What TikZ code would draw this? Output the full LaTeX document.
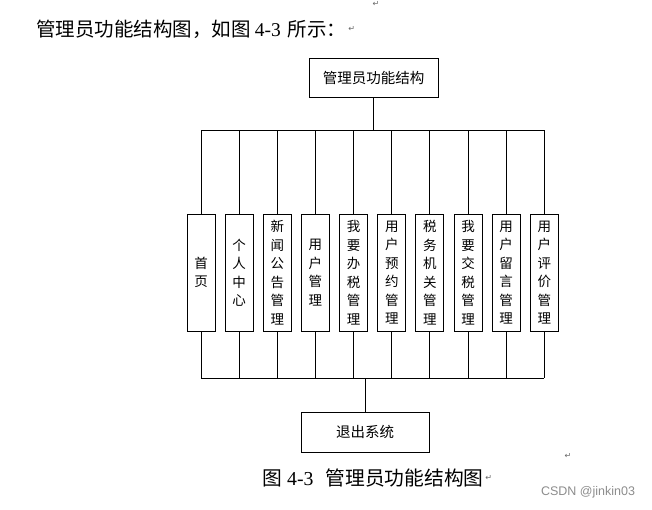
\documentclass[tikz,border=0pt]{standalone}
\usepackage{fontspec}
\setmainfont{Liberation Serif}
\newfontfamily\cjk{Noto Sans CJK SC}
\newfontfamily\symfont{DejaVu Sans}
\newfontfamily\wmfont{Liberation Sans}
\usepackage{xcolor}
\usepackage{tikz}
\usetikzlibrary{positioning}

\begin{document}
\begin{tikzpicture}[x=1pt, y=-1pt, line width=0.9pt,
    box/.style={draw, rectangle, inner sep=0pt, font={\cjk\fontsize{14.5}{16}\selectfont}},
    item/.style={draw, rectangle, inner sep=0pt, minimum width=28pt, minimum height=117pt,
        align=center, font={\cjk\fontsize{13.5}{18.5}\selectfont}},
    retmark/.style={inner sep=0pt, text=black!60, font={\symfont\fontsize{8}{8}\selectfont}}]
    \useasboundingbox (0,0) rectangle (652,509);
    % intro line
    \node[anchor=west, inner sep=0pt, font={\cjk\fontsize{19.5}{21}\selectfont}] (intro) at (36,29)
        {管理员功能结构图，如图\hspace{4pt}{\rmfamily 4-3}\hspace{7pt}所示：};
    \node[retmark, right=1pt of intro] (ret1) {↵};
    \node[retmark] (ret0) at (376,4) {↵};
    % root
    \node[box, minimum width=129pt, minimum height=39pt] (root) at (373.5,77.5) {管理员功能结构};
    \coordinate (bustop) at (0,130);
    \coordinate (busbot) at (0,378);
    % modules
    \foreach \t [count=\i] in {首\\页, 个\\人\\中\\心, 新\\闻\\公\\告\\管\\理, 用\\户\\管\\理,
        我\\要\\办\\税\\管\\理, 用\\户\\预\\约\\管\\理, 税\\务\\机\\关\\管\\理,
        我\\要\\交\\税\\管\\理, 用\\户\\留\\言\\管\\理, 用\\户\\评\\价\\管\\理}
        \node[item] (m\i) at ({201+(\i-1)*38.15},272.5) {\t};
    \draw (root.south) -- (root.south |- bustop);
    \draw (m1.north |- bustop) -- (m10.north |- bustop);
    \draw (m1.south |- busbot) -- (m10.south |- busbot);
    \foreach \i in {1,...,10} {
        \draw (m\i.north) -- (m\i.north |- bustop);
        \draw (m\i.south) -- (m\i.south |- busbot);
    }
    % exit
    \node[box, minimum width=128pt, minimum height=40pt] (quit) at (365,432) {退出系统};
    \draw (quit.north |- busbot) -- (quit.north);
    \node[retmark] (ret2) at (568,456) {↵};
    % caption
    \node[anchor=west, inner sep=0pt, font={\cjk\fontsize{19.75}{21}\selectfont}] (cap) at (262,478)
        {图\hspace{5pt}{\rmfamily 4-3}\hspace{12pt}管理员功能结构图};
    \node[retmark, right=1pt of cap] (ret3) {↵};
    \node[inner sep=0pt, text=black!45, font={\wmfont\fontsize{12.5}{14}\selectfont}] (wm) at (588,492)
        {CSDN @jinkin03};
\end{tikzpicture}
\end{document}
